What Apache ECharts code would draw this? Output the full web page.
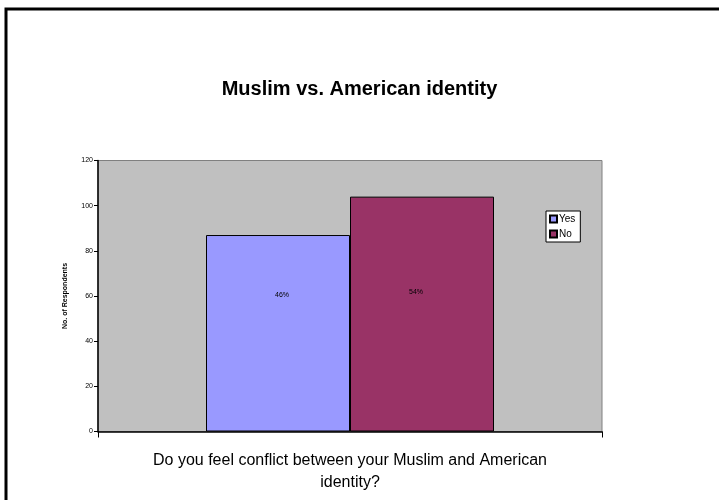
<!DOCTYPE html>
<html>
<head>
<meta charset="utf-8">
<script src="https://cdn.jsdelivr.net/npm/echarts@6/dist/echarts.min.js"></script>
<style>
  html, body { margin: 0; padding: 0; background: #fff; }
  #chart { width: 719px; height: 500px; }
</style>
</head>
<body>
<div id="chart"></div>
<script>
// Survey answers: respondents who feel a conflict between identities
const categories = [''];
const seriesNames = ['Yes', 'No'];
const yesValues = [87];
const noValues = [104];
const yTicks = [0, 20, 40, 60, 80, 100, 120];

const total = yesValues[0] + noValues[0];
const pct = v => Math.round(v / total * 100) + '%';

const chart = echarts.init(document.getElementById('chart'), null, { renderer: 'canvas' });
const font = 'Liberation Sans, Arial, sans-serif';

chart.setOption({
  backgroundColor: '#ffffff',
  animation: false,
  textStyle: { fontFamily: font },
  title: {
    text: 'Muslim vs. American identity',
    left: 'center',
    top: 74,
    textStyle: { fontFamily: font, fontSize: 20, fontWeight: 'bold', color: '#000' }
  },
  graphic: [{
    type: 'rect',
    shape: { x: 6, y: 9, width: 760, height: 560 },
    style: { fill: 'none', stroke: '#000', lineWidth: 3 },
    silent: true
  }],
  legend: {
    data: seriesNames,
    orient: 'vertical',
    left: 546,
    top: 211,
    padding: [3, 5, 3, 3],
    itemGap: 5,
    itemWidth: 7,
    itemHeight: 7,
    icon: 'rect',
    backgroundColor: '#ffffff',
    borderColor: '#000',
    borderWidth: 1,
    borderRadius: 0,
    textStyle: { fontFamily: font, fontSize: 10, lineHeight: 10, color: '#000', padding: [0, 0, 0, -3] }
  },
  grid: {
    left: 98,
    top: 160.5,
    width: 504,
    height: 271,
    show: true,
    backgroundColor: '#C0C0C0',
    borderColor: '#808080',
    borderWidth: 1,
    containLabel: false
  },
  xAxis: {
    type: 'category',
    data: categories,
    boundaryGap: true,
    name: 'Do you feel conflict between your Muslim and American\nidentity?',
    nameLocation: 'middle',
    nameGap: 18,
    nameTextStyle: { fontFamily: font, fontSize: 16, color: '#000', lineHeight: 22, verticalAlign: 'top' },
    axisLine: { lineStyle: { color: '#000', width: 1.5 } },
    axisTick: { show: true, alignWithLabel: false, length: 6, lineStyle: { color: '#000' } },
    axisLabel: { show: false },
    splitLine: { show: false }
  },
  yAxis: {
    type: 'value',
    min: yTicks[0],
    max: yTicks[yTicks.length - 1],
    interval: 20,
    name: 'No. of Respondents',
    nameLocation: 'middle',
    nameGap: 29,
    nameRotate: 90,
    nameTextStyle: { fontFamily: font, fontSize: 7, fontWeight: 'bold', color: '#000' },
    axisLine: { show: true, lineStyle: { color: '#000', width: 1.5 } },
    axisTick: { show: true, length: 4, inside: false, lineStyle: { color: '#000' } },
    axisLabel: { fontFamily: font, fontSize: 7, color: '#000', margin: 5 },
    splitLine: { show: false }
  },
  series: [
    {
      name: seriesNames[0],
      type: 'bar',
      data: yesValues,
      barWidth: 144,
      barGap: '0%',
      itemStyle: { color: '#9999FF', borderColor: '#000', borderWidth: 1 },
      label: {
        show: true,
        position: 'inside',
        offset: [4, -38],
        formatter: p => pct(p.value),
        fontFamily: font, fontSize: 7, color: '#000'
      }
    },
    {
      name: seriesNames[1],
      type: 'bar',
      data: noValues,
      barWidth: 144,
      barGap: '0%',
      itemStyle: { color: '#993366', borderColor: '#000', borderWidth: 1 },
      label: {
        show: true,
        position: 'inside',
        offset: [-6, -22],
        formatter: p => pct(p.value),
        fontFamily: font, fontSize: 7, color: '#000'
      }
    }
  ]
});
</script>
</body>
</html>
